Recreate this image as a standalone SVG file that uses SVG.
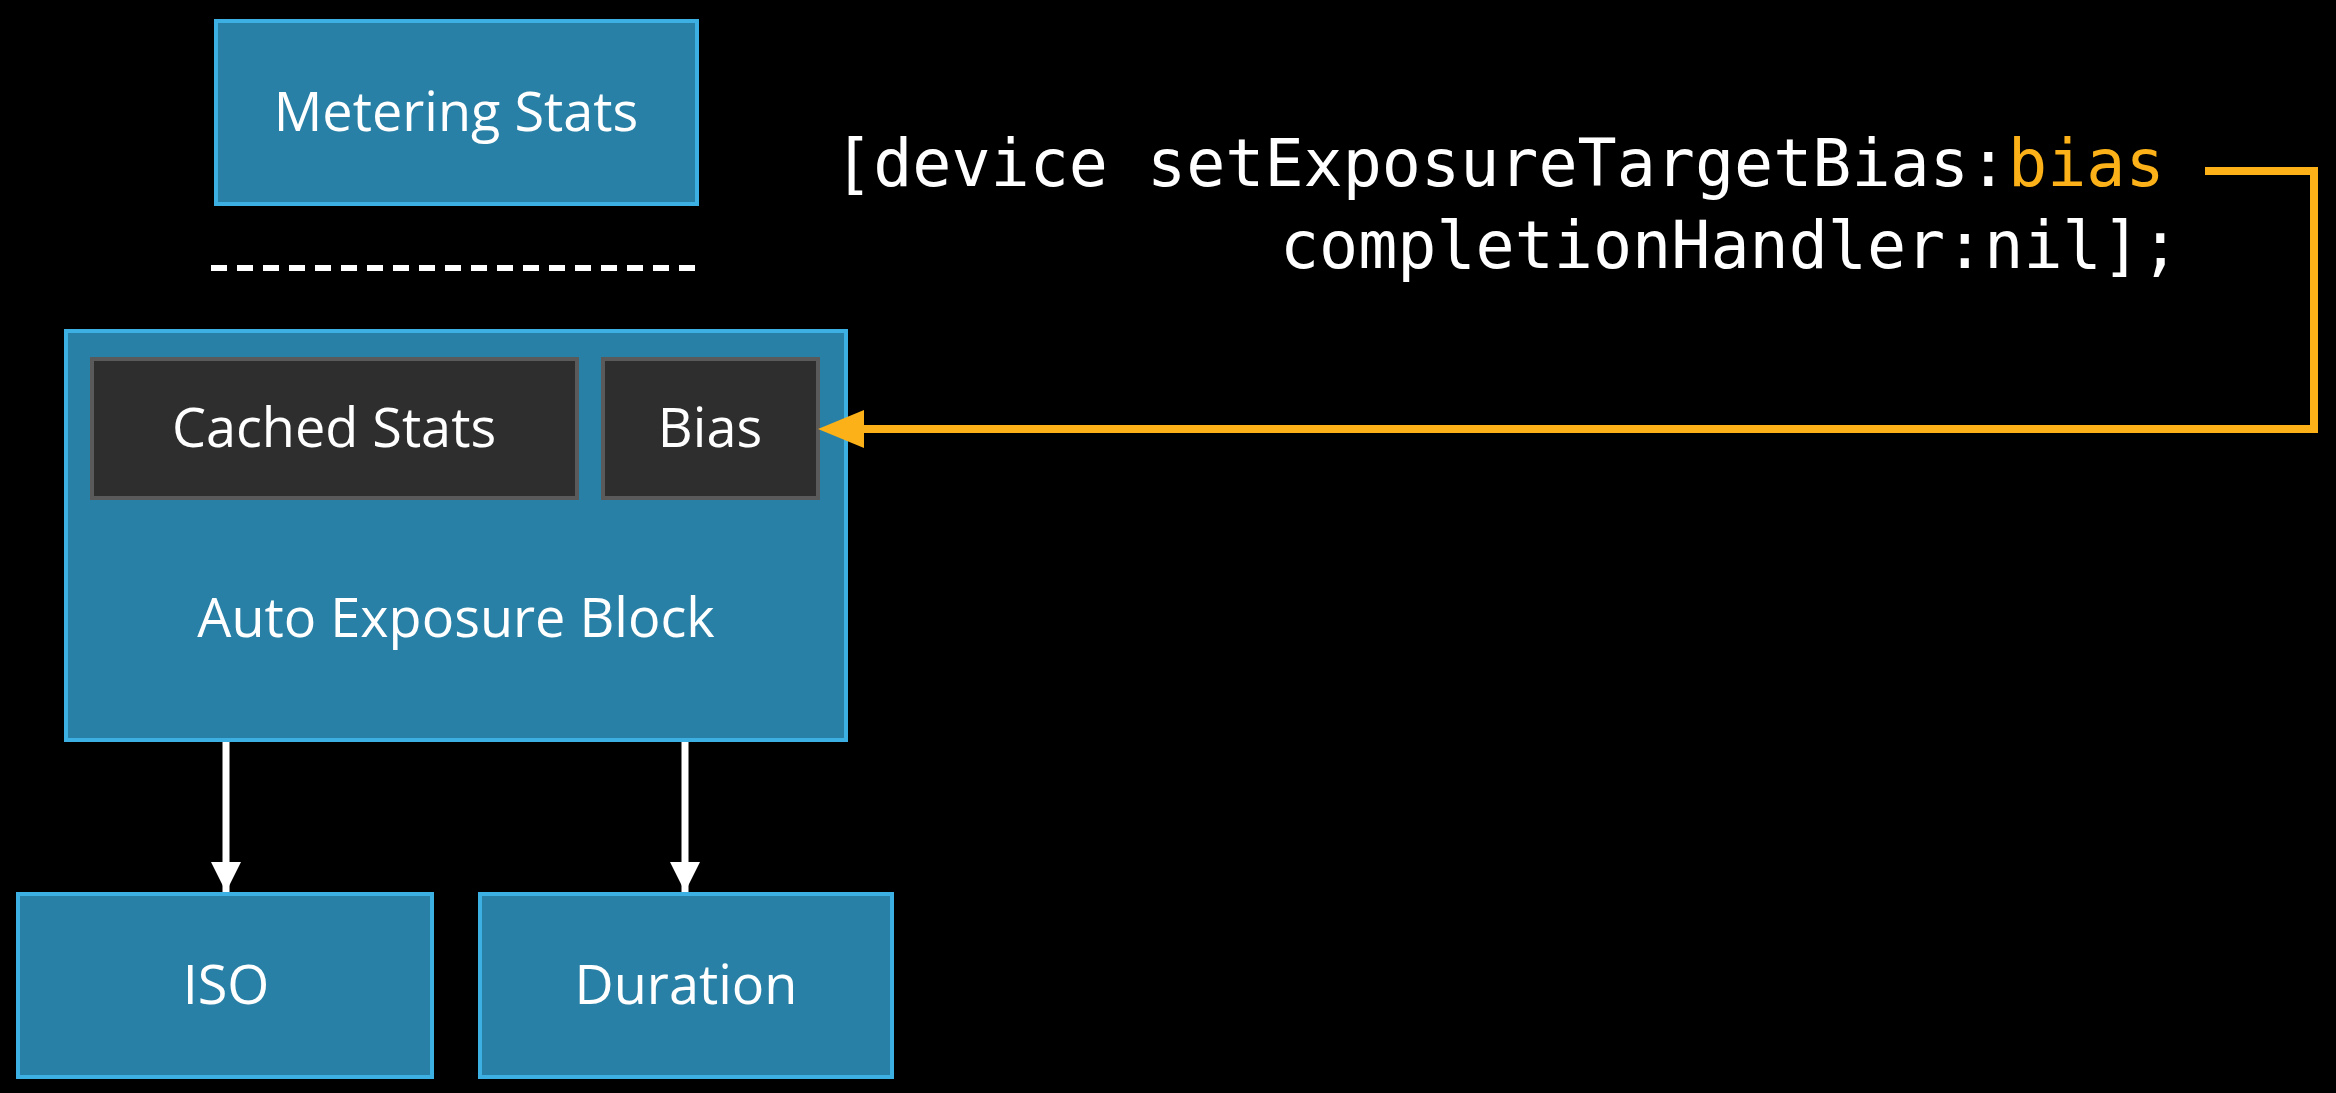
<svg xmlns="http://www.w3.org/2000/svg" width="2336" height="1093" viewBox="0 0 2336 1093">
<style>
.b{fill:#2880a6;stroke:#3cb0e3;stroke-width:4}
.d{fill:#2e2e2e;stroke:#5a5a5a;stroke-width:4}
.t{font-family:"Open Sans","Liberation Sans",sans-serif;font-size:54px;fill:#fff;text-anchor:middle}
.c{font-family:"DejaVu Sans Mono","Liberation Mono",monospace;font-size:65px;fill:#fff}
</style>
<defs>
<marker id="w" markerWidth="10" markerHeight="10" refX="9" refY="5" orient="auto" markerUnits="userSpaceOnUse" viewBox="0 0 10 10"><path d="M0,0L10,5L0,10z" fill="#fff"/></marker>
<marker id="o" markerWidth="46" markerHeight="40" refX="46" refY="20" orient="auto" markerUnits="userSpaceOnUse"><path d="M0,0L46,20L0,40z" fill="#fbb117"/></marker>
</defs>
<rect width="2336" height="1093" fill="#000"/>
<g id="metering"><rect class="b" x="216" y="21" width="481" height="183"/><text class="t" x="456" y="131">Metering Stats</text></g>
<line x1="211" y1="268" x2="697" y2="268" stroke="#fff" stroke-width="6" stroke-dasharray="16,10"/>
<g id="ae"><rect class="b" x="66" y="331" width="780" height="409"/><text class="t" x="456" y="637">Auto Exposure Block</text></g>
<g id="cached"><rect class="d" x="92" y="359" width="485" height="139"/><text class="t" x="334" y="447">Cached Stats</text></g>
<g id="bias"><rect class="d" x="603" y="359" width="215" height="139"/><text class="t" x="710" y="447">Bias</text></g>
<g id="iso"><rect class="b" x="18" y="894" width="414" height="183"/><text class="t" x="226" y="1004">ISO</text></g>
<g id="duration"><rect class="b" x="480" y="894" width="412" height="183"/><text class="t" x="686" y="1004">Duration</text></g>
<g id="code"><text class="c" x="834" y="186">[device setExposureTargetBias:<tspan fill="#fbb117">bias</tspan></text><text class="c" x="2180" y="268" text-anchor="end">completionHandler:nil];</text></g>
<g id="connectors" fill="none">
<line x1="226" y1="742" x2="226" y2="892" stroke="#fff" stroke-width="7"/>
<path d="M211,862L241,862L226,892z" fill="#fff"/>
<line x1="685" y1="742" x2="685" y2="892" stroke="#fff" stroke-width="7"/>
<path d="M670,862L700,862L685,892z" fill="#fff"/>
<polyline points="2205,171 2314,171 2314,429 860,429" stroke="#fbb117" stroke-width="8"/>
<path d="M818,429L864,410L864,448z" fill="#fbb117"/>
</g>
</svg>
